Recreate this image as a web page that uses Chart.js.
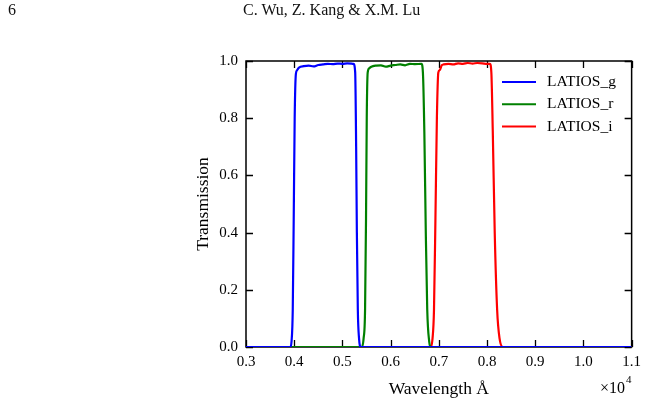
<!DOCTYPE html>
<html>
<head>
<meta charset="utf-8">
<script src="https://cdn.jsdelivr.net/npm/chart.js@4.4.1/dist/chart.umd.min.js"></script>
<style>
  body { margin: 0; background: #fff; }
  #wrap { position: relative; width: 647px; height: 405px; }
  canvas { position: absolute; left: 0; top: 0; }
  .hdr { position: absolute; top: 0px; font-family: "Liberation Serif", serif; font-size: 16px; color: #111; line-height: 20px; }
</style>
</head>
<body>
<div id="wrap">
  <canvas id="myChart" width="647" height="405"></canvas>
  <div class="hdr" style="left:8px">6</div>
  <div class="hdr" style="left:243px">C. Wu, Z. Kang &amp; X.M. Lu</div>
</div>
<script>
// filter curves, wavelength in Angstrom
const gWave = [3000, 3920, 3945, 3970, 3990, 4010, 4035, 4060, 4100, 4200, 4300, 4400, 4500, 4600, 4700, 4800, 4900, 5000, 5100, 5230, 5265, 5285, 5300, 5320, 5345, 5380, 11000];
const gTrans = [0, 0, 0.02, 0.13, 0.45, 0.8, 0.955, 0.968, 0.977, 0.982, 0.984, 0.981, 0.986, 0.988, 0.99, 0.989, 0.991, 0.99, 0.992, 0.99, 0.96, 0.7, 0.4, 0.13, 0.03, 0, 0];

const rWave = [3000, 5400, 5440, 5470, 5490, 5505, 5525, 5560, 5600, 5700, 5800, 5900, 6000, 6100, 6200, 6300, 6400, 6500, 6640, 6670, 6700, 6730, 6760, 6800, 6830, 11000];
const rTrans = [0, 0, 0.03, 0.13, 0.45, 0.8, 0.96, 0.975, 0.98, 0.984, 0.985, 0.98, 0.984, 0.986, 0.988, 0.985, 0.99, 0.989, 0.99, 0.96, 0.75, 0.4, 0.13, 0.02, 0, 0];

const iWave = [3000, 6830, 6870, 6900, 6930, 6960, 6990, 7020, 7060, 7100, 7200, 7300, 7400, 7500, 7600, 7700, 7800, 7900, 8000, 8060, 8090, 8120, 8160, 8210, 8260, 8330, 11000];
const iTrans = [0, 0, 0.03, 0.13, 0.45, 0.8, 0.96, 0.968, 0.985, 0.988, 0.99, 0.988, 0.992, 0.99, 0.993, 0.991, 0.993, 0.992, 0.99, 0.99, 0.96, 0.75, 0.4, 0.13, 0.03, 0, 0];

const filterNames = ['LATIOS_g', 'LATIOS_r', 'LATIOS_i'];
const filterColors = ['#0000ff', '#008000', '#ff0000'];
const xTicks = [3000, 4000, 5000, 6000, 7000, 8000, 9000, 10000, 11000];
const yTicks = [0, 0.2, 0.4, 0.6, 0.8, 1.0];

function pts(wave, trans) {
    return wave.map((w, i) => ({x: w, y: trans[i]}));
}

const serif = '"Liberation Serif", "Times New Roman", serif';

const framePlugin = {
    id: 'frame',
    beforeDatasetsDraw(chart) {
        const c = chart.ctx, a = chart.chartArea;
        const xs = chart.scales.x, ys = chart.scales.y;
        c.save();
        c.strokeStyle = '#000';
        c.lineWidth = 1.5;
        c.strokeRect(a.left, a.top, a.right - a.left, a.bottom - a.top);
        c.lineWidth = 1.3;
        c.beginPath();
        xTicks.forEach(v => {
            const px = Math.round(xs.getPixelForValue(v)) + 0.5;
            c.moveTo(px, a.bottom); c.lineTo(px, a.bottom - 7);
            c.moveTo(px, a.top); c.lineTo(px, a.top + 7);
        });
        yTicks.forEach(v => {
            const py = Math.round(ys.getPixelForValue(v)) + 0.5;
            c.moveTo(a.left, py); c.lineTo(a.left + 7, py);
            c.moveTo(a.right, py); c.lineTo(a.right - 7, py);
        });
        c.stroke();
        c.restore();
    },
    afterDraw(chart) {
        const c = chart.ctx, a = chart.chartArea;
        c.save();
        c.fillStyle = '#000';
        // axis titles
        c.font = '17.5px ' + serif;
        c.textAlign = 'center';
        c.textBaseline = 'middle';
        c.fillText('Wavelength Å', (a.left + a.right) / 2, 389);
        c.save();
        c.translate(203, (a.top + a.bottom) / 2);
        c.rotate(-Math.PI / 2);
        c.fillText('Transmission', 0, 0);
        c.restore();
        // offset text
        c.textAlign = 'left';
        c.font = '16px ' + serif;
        c.fillText('×10', 600, 389);
        c.font = '11px ' + serif;
        c.fillText('4', 626, 380);
        // legend
        c.font = '15.5px ' + serif;
        chart.data.datasets.forEach((ds, i) => {
            const y = 82 + i * 22.3;
            c.strokeStyle = ds.borderColor;
            c.lineWidth = 2;
            c.beginPath();
            c.moveTo(502, y); c.lineTo(536, y);
            c.stroke();
            c.fillText(ds.label, 547, y);
        });
        c.restore();
    }
};

new Chart(document.getElementById('myChart'), {
    type: 'line',
    data: {
        datasets: [
            {label: filterNames[0], data: pts(gWave, gTrans), borderColor: filterColors[0]},
            {label: filterNames[1], data: pts(rWave, rTrans), borderColor: filterColors[1]},
            {label: filterNames[2], data: pts(iWave, iTrans), borderColor: filterColors[2]}
        ]
    },
    options: {
        responsive: false,
        animation: false,
        layout: {padding: {left: 0, top: 61, right: 15, bottom: 0}},
        elements: {
            point: {radius: 0},
            line: {borderWidth: 2.2, cubicInterpolationMode: 'monotone'}
        },
        plugins: {legend: {display: false}, tooltip: {enabled: false}},
        scales: {
            x: {
                type: 'linear', min: 3000, max: 11000,
                afterFit: s => { s.height = 58; },
                afterBuildTicks: s => { s.ticks = xTicks.map(v => ({value: v})); },
                grid: {display: false, drawTicks: false},
                border: {display: false},
                ticks: {
                    color: '#000', padding: 6,
                    font: {family: serif, size: 15},
                    maxRotation: 0, autoSkip: false,
                    callback: v => (v / 10000).toFixed(1)
                }
            },
            y: {
                min: 0, max: 1,
                afterFit: s => { s.width = 246; },
                afterBuildTicks: s => { s.ticks = yTicks.map(v => ({value: v})); },
                grid: {display: false, drawTicks: false},
                border: {display: false},
                ticks: {
                    color: '#000', padding: 8,
                    font: {family: serif, size: 15},
                    callback: v => v.toFixed(1)
                }
            }
        }
    },
    plugins: [framePlugin]
});
</script>
</body>
</html>
